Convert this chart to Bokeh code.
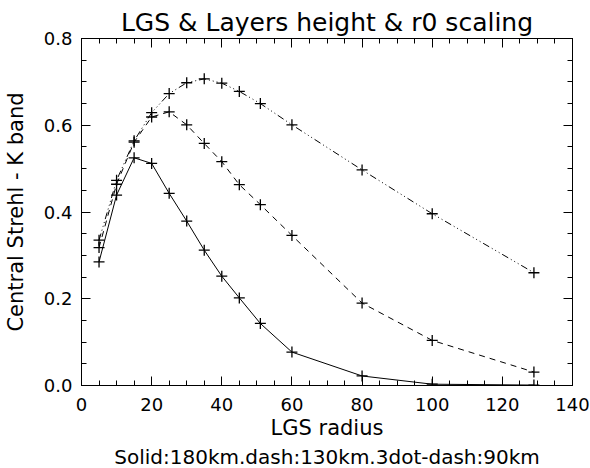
from bokeh.plotting import figure
from bokeh.models import (LinearAxis, Title, Range1d, FixedTicker,
                          PrintfTickFormatter, CustomLabelingPolicy)
from bokeh.embed import file_html
from bokeh.resources import INLINE

# LGS radius and central Strehl (K band) for three layer heights
radius = [5, 10, 15, 20, 25, 30, 35, 40, 45, 51, 60, 80, 100, 129]
strehl_180km = [0.285, 0.439, 0.525, 0.512, 0.443, 0.379, 0.312, 0.252, 0.202, 0.143, 0.077, 0.022, 0.003, 0.001]
strehl_130km = [0.318, 0.464, 0.561, 0.619, 0.631, 0.601, 0.558, 0.516, 0.463, 0.417, 0.346, 0.190, 0.104, 0.031]
strehl_90km = [0.335, 0.473, 0.564, 0.629, 0.673, 0.698, 0.707, 0.697, 0.678, 0.650, 0.601, 0.497, 0.396, 0.260]

x_major = [0, 20, 40, 60, 80, 100, 120, 140]
x_minor = list(range(0, 141, 5))
y_major = [0.0, 0.2, 0.4, 0.6, 0.8]
y_minor = [i * 0.05 for i in range(17)]

FONT = "DejaVu Sans"
TICK_SIZE = "18px"
AXIS_LABEL_SIZE = "21px"
NOTE_SIZE = "20px"
TITLE_SIZE = "25px"

p = figure(width=590, height=468, output_backend="svg", toolbar_location=None,
           x_range=Range1d(0, 140), y_range=Range1d(0, 0.8),
           min_border_left=81, min_border_right=18, min_border_top=38,
           min_border_bottom=83)
p.grid.visible = False
p.outline_line_color = "black"
p.background_fill_color = "white"
p.border_fill_color = "white"

p.title.text = "LGS & Layers height & r0 scaling"
p.title.align = "center"
p.title.standoff = 3
p.title.text_font = FONT
p.title.text_font_size = TITLE_SIZE
p.title.text_font_style = "normal"
p.title.text_color = "black"

# the box axes on top and right carry ticks only
no_labels = CustomLabelingPolicy(code="""
for (let i = 0; i < indices.size; i++) { indices.unset(i) }
return indices
""")


def style_axis(ax, ticker, show_labels):
    ax.ticker = ticker
    ax.axis_line_color = "black"
    ax.axis_line_width = 1
    ax.major_tick_in = 9
    ax.major_tick_out = 0
    ax.minor_tick_in = 5
    ax.minor_tick_out = 0
    ax.major_tick_line_color = "black"
    ax.minor_tick_line_color = "black"
    ax.major_label_text_font = FONT
    ax.axis_label_text_font = FONT
    ax.axis_label_text_font_style = "normal"
    ax.axis_label_text_color = "black"
    ax.major_label_text_color = "black"
    ax.axis_label_text_font_size = AXIS_LABEL_SIZE
    if show_labels:
        ax.major_label_text_font_size = TICK_SIZE
    else:
        ax.major_label_text_font_size = "0px"
        ax.major_label_policy = no_labels
        ax.major_label_standoff = 0


xt = FixedTicker(ticks=x_major, minor_ticks=x_minor)
yt = FixedTicker(ticks=y_major, minor_ticks=y_minor)

xa = p.xaxis[0]
style_axis(xa, xt, True)
xa.axis_label = "LGS radius"
xa.major_label_standoff = 12
xa.axis_label_standoff = 2

ya = p.yaxis[0]
style_axis(ya, yt, True)
ya.axis_label = "Central Strehl - K band"
ya.formatter = PrintfTickFormatter(format="%.1f")
ya.major_label_standoff = 9
ya.axis_label_standoff = 13

top = LinearAxis()
style_axis(top, FixedTicker(ticks=x_major, minor_ticks=x_minor), False)
p.add_layout(top, "above")
right = LinearAxis()
style_axis(right, FixedTicker(ticks=y_major, minor_ticks=y_minor), False)
p.add_layout(right, "right")

note = Title(text="Solid:180km.dash:130km.3dot-dash:90km", align="center",
             text_font=FONT, text_font_size=NOTE_SIZE, text_font_style="normal",
             text_color="black", standoff=0)
p.add_layout(note, "below")

series = [
    (strehl_180km, "solid"),
    (strehl_130km, "6 5"),
    (strehl_90km, "7 3 1 3 1 3 1 3"),
]
for values, dash in series:
    p.line(radius, values, line_color="black", line_width=1, line_dash=dash)
    p.scatter(radius, values, marker="cross", size=11, line_color="black",
              line_width=1.3)

open("out.html", "w").write(file_html(p, INLINE))
